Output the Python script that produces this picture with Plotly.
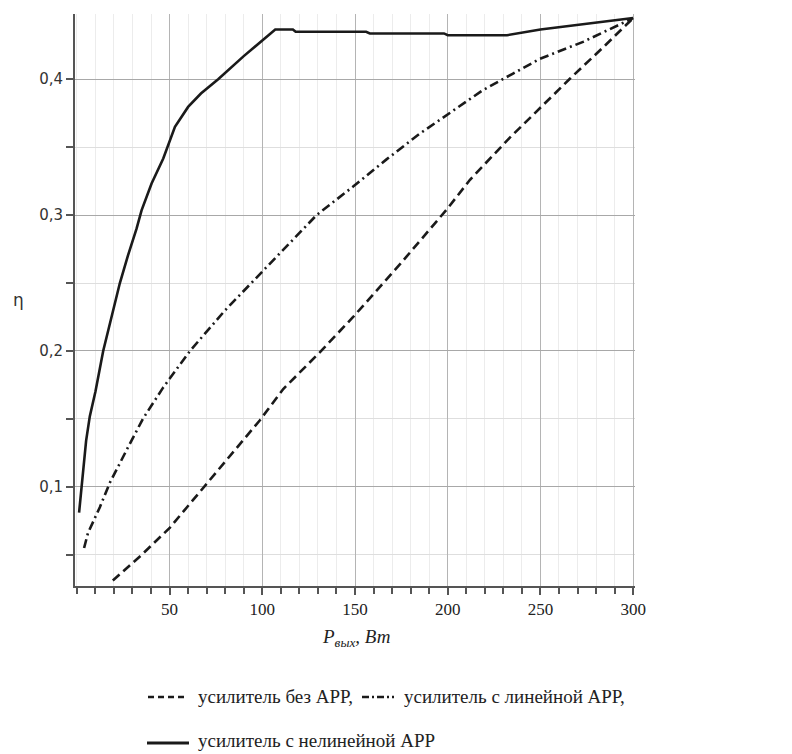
import plotly.graph_objects as go

# --- data ---
x_none = [19.4, 35, 50.2, 75, 98.7, 111.3, 131, 149, 175, 200, 212, 233.5, 250, 266, 285, 300]
y_none = [0.031, 0.050, 0.070, 0.110, 0.149, 0.172, 0.199, 0.225, 0.265, 0.305, 0.326, 0.357, 0.379, 0.4005, 0.425, 0.445]

x_lin = [3.9, 6, 12.4, 17.8, 26.8, 35.6, 46.5, 61, 80, 96.9, 115, 129.3, 149, 167, 185, 202, 219, 235, 249.7, 273, 300]
y_lin = [0.055, 0.066, 0.085, 0.103, 0.127, 0.150, 0.173, 0.200, 0.230, 0.254, 0.280, 0.300, 0.321, 0.341, 0.360, 0.376, 0.392, 0.404, 0.415, 0.4275, 0.445]

x_nl = [1.2, 2.5, 4, 5, 7, 10, 14.2, 18.5, 23.2, 27.5, 32.2, 34.9, 40.3, 46.6, 52.9, 60, 66.9, 76.2, 90, 107,
        116.5, 118, 156, 158, 198, 200, 232, 250, 275, 300]
y_nl = [0.081, 0.100, 0.122, 0.134, 0.152, 0.170, 0.200, 0.225, 0.250, 0.270, 0.290, 0.3035, 0.3232, 0.3416, 0.365, 0.3796, 0.3895, 0.400, 0.417, 0.4366,
        0.4366, 0.4349, 0.4349, 0.4337, 0.4337, 0.4324, 0.4324, 0.4366, 0.441, 0.445]

x_ticks = [50, 100, 150, 200, 250, 300]
y_ticks = [0.1, 0.2, 0.3, 0.4]

legend_none = "усилитель без АРР,"
legend_lin = "усилитель с линейной АРР,"
legend_nl = "усилитель с нелинейной АРР"

# --- geometry helpers (pixels -> paper) ---
L, R, T, B = 75, 635, 14, 586
W, H = 792, 754
def px(x):
    return (x - L) / (R - L)
def py(y):
    return (B - y) / (B - T)

LINE_C = "#1a1a1a"
fig = go.Figure()
fig.add_trace(go.Scatter(x=x_none, y=y_none, mode="lines",
                         line=dict(color=LINE_C, width=2.6, dash="9px,5px")))
fig.add_trace(go.Scatter(x=x_lin, y=y_lin, mode="lines",
                         line=dict(color=LINE_C, width=2.6, dash="9px,4px,2px,4px")))
fig.add_trace(go.Scatter(x=x_nl, y=y_nl, mode="lines",
                         line=dict(color=LINE_C, width=2.6)))

fig.update_layout(
    width=W, height=H,
    margin=dict(l=L, r=W - R, t=T, b=H - B),
    paper_bgcolor="white", plot_bgcolor="white",
    showlegend=False,
    separators=", ",
)
fig.update_xaxes(
    range=[-1, 301], tickmode="array", tickvals=x_ticks,
    showline=True, linecolor="#555", linewidth=2,
    ticks="outside", ticklen=7, tickcolor="#555", tickwidth=1.5,
    showgrid=True, gridcolor="#b4b4b4", gridwidth=1.2, zeroline=False,
    tickfont=dict(family="Liberation Serif", size=17, color="#222"),
    minor=dict(tickmode="linear", tick0=0, dtick=10, ticks="outside", ticklen=6,
               tickcolor="#555", tickwidth=1.5, showgrid=True, gridcolor="#ececec", gridwidth=1),
)
fig.update_yaxes(
    range=[0.027, 0.448], tickmode="array", tickvals=y_ticks, tickformat=".1f",
    showline=True, linecolor="#555", linewidth=2,
    ticks="outside", ticklen=7, tickcolor="#555", tickwidth=1.5,
    showgrid=True, gridcolor="#a8a8a8", gridwidth=1.2, zeroline=False,
    tickfont=dict(family="DejaVu Sans", size=15, color="#333"),
    minor=dict(tickmode="linear", tick0=0, dtick=0.05, ticks="outside", ticklen=7,
               tickcolor="#555", tickwidth=1.5, showgrid=True, gridcolor="#dedede", gridwidth=1),
)

ann = []
# y label
ann.append(dict(text="η", xref="paper", yref="paper", x=px(18), y=py(300),
                xanchor="center", yanchor="middle",
                showarrow=False, font=dict(family="DejaVu Sans", size=17, color="#333")))
# x label
ann.append(dict(text="<i>P</i><sub><i>вых</i></sub><i>, Вт</i>", xref="paper", yref="paper",
                x=px(356), y=py(638), xanchor="center", yanchor="middle", showarrow=False,
                font=dict(family="Liberation Serif", size=19, color="#222")))
# legend texts
lf = dict(family="Liberation Serif", size=19, color="#222")
ann.append(dict(text=legend_none, xref="paper", yref="paper", x=px(196), y=py(696),
                xanchor="left", yanchor="middle", showarrow=False, font=lf))
ann.append(dict(text=legend_lin, xref="paper", yref="paper", x=px(402), y=py(696),
                xanchor="left", yanchor="middle", showarrow=False, font=lf))
ann.append(dict(text=legend_nl, xref="paper", yref="paper", x=px(196), y=py(740),
                xanchor="left", yanchor="middle", showarrow=False, font=lf))
fig.update_layout(annotations=ann)

shapes = [
    dict(type="line", xref="paper", yref="paper", x0=px(148), x1=px(184), y0=py(697), y1=py(697),
         line=dict(color=LINE_C, width=2.4, dash="6px,4px")),
    dict(type="line", xref="paper", yref="paper", x0=px(362), x1=px(394), y0=py(697), y1=py(697),
         line=dict(color=LINE_C, width=2.4, dash="7px,3px,2px,3px")),
    dict(type="line", xref="paper", yref="paper", x0=px(147), x1=px(189), y0=py(743), y1=py(743),
         line=dict(color=LINE_C, width=3)),
]
fig.update_layout(shapes=shapes)

fig.write_html("out.html")
